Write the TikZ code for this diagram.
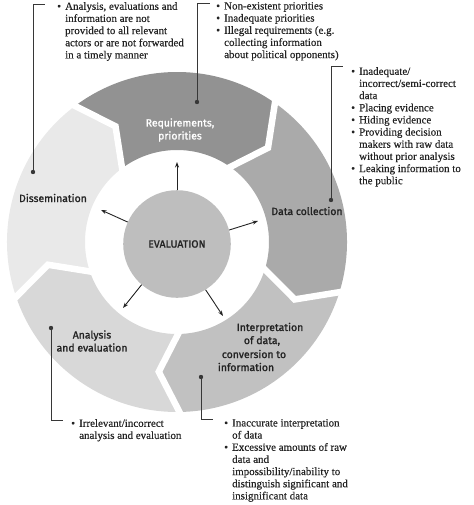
\documentclass[tikz,border=0pt]{standalone}
\usepackage{fontspec}
\setmainfont{Liberation Serif}[FakeBold=0.4]
\newfontfamily\labfont{Fira Sans}[FakeBold=1.3]
\usetikzlibrary{calc,arrows.meta}
\definecolor{reqc}{RGB}{146,146,146}
\definecolor{datac}{RGB}{170,170,170}
\definecolor{intc}{RGB}{193,193,193}
\definecolor{anac}{RGB}{216,216,216}
\definecolor{disc}{RGB}{233,233,233}
\definecolor{evc}{RGB}{190,190,190}
\definecolor{linec}{RGB}{55,55,55}
\definecolor{txtc}{RGB}{35,35,35}
\newcommand\mybul{\makebox[8pt][l]{\textbullet}}
\newcommand\myind{\hspace*{8pt}}
\newcommand\ringseg[3]{%
  \fill[#1] ($(c)+(#2:170)$) arc[start angle=#2, end angle=#3, radius=170]
    -- ($(c)+(#3-9:131)$) -- ($(c)+(#3:92)$)
    arc[start angle=#3, end angle=#2, radius=92]
    -- ($(c)+(#2-9:131)$) -- cycle;}
\newcommand\ringgap[1]{%
  \draw[gapline] ($(c)+(#1:171)$) -- ($(c)+(#1-9:131)$) -- ($(c)+(#1:91)$);}
\tikzset{
  gapline/.style={white, line width=6.5pt, line join=miter, line cap=rect},
  callout/.style={anchor=north west, align=left, inner sep=0pt, text=txtc,
    font=\fontsize{11}{12.2}\selectfont},
  lab/.style={align=center, inner sep=0pt, text=txtc,
    font=\labfont\fontsize{10.5}{13}\selectfont},
  dotn/.style={circle, fill=linec, inner sep=0pt, minimum size=4.4pt},
  callline/.style={draw=linec, line width=1pt},
  arr/.style={draw=txtc, line width=0.9pt, -{Stealth[length=5.5pt,width=4pt]}}
}
\begin{document}
\begin{tikzpicture}[x=1bp,y=1bp]
\useasboundingbox (0,0) rectangle (474,-505);
\coordinate (c) at (177,-242);
% ring segments
\ringseg{reqc}{127}{55}
\ringseg{datac}{55}{-17}
\ringseg{intc}{-17}{-89}
\ringseg{anac}{-89}{-161}
\ringseg{disc}{199}{127}
\ringgap{127}
\ringgap{55}
\ringgap{-17}
\ringgap{-89}
\ringgap{-161}
% centre
\node[circle, fill=evc, minimum size=108pt, inner sep=0pt, text=txtc,
  font=\labfont\fontsize{10.5}{13}\selectfont] (ev) at (177,-244) {EVALUATION};
\coordinate (t1) at (177,-162);
\coordinate (t2) at (258,-221);
\coordinate (t3) at (223,-316);
\coordinate (t4) at (123,-308);
\coordinate (t5) at (101,-210);
\draw[arr] (ev.90) -- (t1);
\draw[arr] (ev.15) -- (t2);
\draw[arr] (ev.302) -- (t3);
\draw[arr] (ev.229) -- (t4);
\draw[arr] (ev.156) -- (t5);
% ring labels
\node[lab, text=white] (lreq) at (180,-130) {Requirements,\\priorities};
\node[lab] (ldata) at (307,-211) {Data collection};
\node[lab] (lint1) at (270,-328) {Interpretation};
\node[lab] (lint2) at (262,-341) {of data,};
\node[lab] (lint3) at (254,-354) {conversion to};
\node[lab] (lint4) at (246,-367) {information};
\node[lab] (lana) at (92,-341) {Analysis\\and evaluation};
\node[lab] (ldis) at (53,-198) {Dissemination};
% callouts
\node[dotn] (d1) at (33,-172) {};
\coordinate (k1) at (45,-5);
\draw[callline] (d1.center) |- (k1);
\node[callout] (c1) at (57,-2) {\mybul Analysis, evaluations and\\
\myind information are not\\
\myind provided to all relevant\\
\myind actors or are not forwarded\\
\myind in a timely manner};
\node[dotn] (d2) at (197,-102) {};
\coordinate (k2) at (210,-4);
\draw[callline] (d2.center) |- (k2);
\node[callout] (c2) at (216,-2) {\mybul Non-existent priorities\\
\mybul Inadequate priorities\\
\mybul Illegal requirements (e.g.\\
\myind collecting information\\
\myind about political opponents)};
\node[dotn] (d3) at (331,-200) {};
\coordinate (k3) at (343,-67);
\draw[callline] (d3.center) |- (k3);
\node[callout] (c3) at (351,-67) {\mybul Inadequate/\\
\myind incorrect/semi-correct\\
\myind data\\
\mybul Placing evidence\\
\mybul Hiding evidence\\
\mybul Providing decision\\
\myind makers with raw data\\
\myind without prior analysis\\
\mybul Leaking information to\\
\myind the public};
\node[dotn] (d4) at (51,-328) {};
\coordinate (k4) at (63,-420);
\draw[callline] (d4.center) |- (k4);
\node[callout] (c4) at (71,-419) {\mybul Irrelevant/incorrect\\
\myind analysis and evaluation};
\node[dotn] (d5) at (201,-377) {};
\coordinate (k5) at (213,-419);
\draw[callline] (d5.center) |- (k5);
\node[callout] (c5) at (224,-419) {\mybul Inaccurate interpretation\\
\myind of data\\
\mybul Excessive amounts of raw\\
\myind data and\\
\myind impossibility/inability to\\
\myind distinguish significant and\\
\myind insignificant data};
\end{tikzpicture}
\end{document}
